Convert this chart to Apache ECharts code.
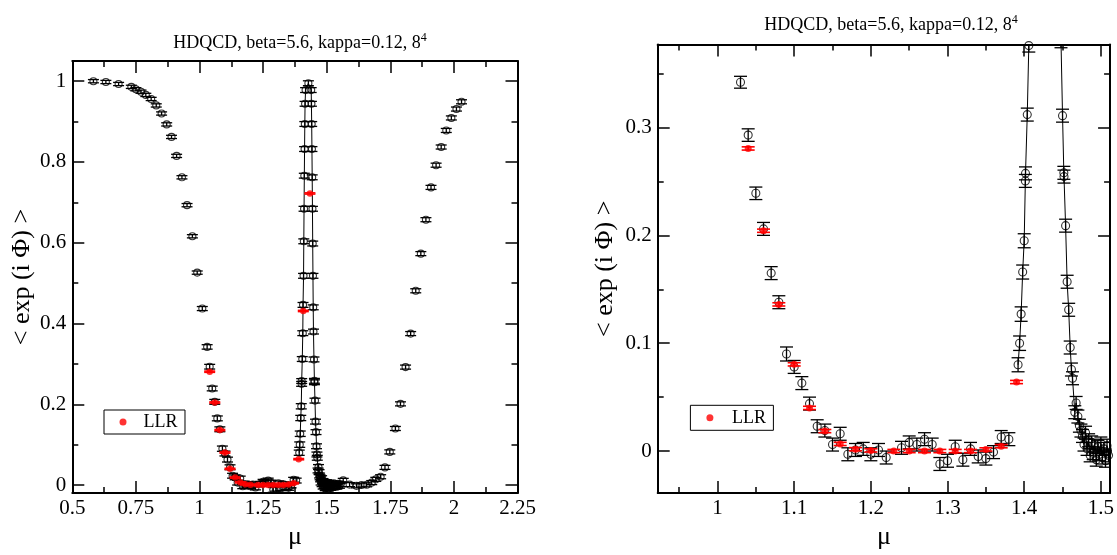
<!DOCTYPE html>
<html><head><meta charset="utf-8">
<script src="https://cdn.jsdelivr.net/npm/echarts@6/dist/echarts.min.js"></script>
<style>html,body{margin:0;padding:0;background:#fff}#c{width:1117px;height:555px}</style>
</head><body><div id="c"></div><script>
// ---- text ----
const titleMain = 'HDQCD, beta=5.6, kappa=0.12, 8';
const titleSup = '4';
const yName = '< exp (i \u03A6) >';
const xName = '\u03BC';
const legendName = 'LLR';

// ---- black open circles (no line) ----
const muBlack = [0.583,0.632,0.682,0.732,0.750,0.770,0.789,0.810,0.830,0.851,0.871,0.890,0.910,0.931,0.951,0.972,0.991,1.011,
  1.03,1.04,1.05,1.06,1.07,1.08,1.09,1.10,1.11,1.12,1.13,1.14,1.15,1.16,1.17,1.18,1.19,1.20,1.21,1.22,1.24,1.25,1.26,1.27,1.28,1.29,1.30,1.31,1.32,1.33,1.34,1.35,1.36,1.37,1.38,
  1.565,1.59,1.617,1.637,1.657,1.677,1.693,1.712,1.729,1.748,1.77,1.79,1.81,1.83,1.85,1.87,1.89,1.91,1.93,1.95,1.97,1.99,2.01,2.03];
const valBlack = [1.000,0.998,0.993,0.986,0.980,0.974,0.966,0.956,0.940,0.920,0.893,0.862,0.815,0.762,0.693,0.616,0.526,0.437,
  0.342,0.293,0.239,0.206,0.165,0.138,0.090,0.078,0.063,0.044,0.023,0.019,0.006,0.016,-0.003,0.001,0.002,-0.003,0.001,-0.006,0.003,0.008,0.006,0.011,0.006,-0.012,-0.009,0.004,-0.008,0.002,-0.005,-0.007,-0.001,0.013,0.011,
  0.0115,0.001,-0.002,0.000,0.0005,0.006,0.014,0.0205,0.0437,0.082,0.140,0.201,0.292,0.375,0.481,0.573,0.657,0.737,0.792,0.837,0.878,0.909,0.931,0.949];
const errBlack = [0.004,0.004,0.004,0.004,0.004,0.004,0.004,0.004,0.004,0.004,0.004,0.004,0.004,0.004,0.004,0.004,0.004,0.005,
  0.0055,0.0058,0.0058,0.006,0.006,0.006,0.0065,0.006,0.006,0.006,0.006,0.006,0.006,0.006,0.006,0.006,0.006,0.006,0.006,0.006,0.006,0.006,0.006,0.006,0.006,0.006,0.006,0.006,0.006,0.006,0.006,0.006,0.006,0.006,0.006,
  0.005,0.005,0.005,0.005,0.005,0.005,0.005,0.005,0.005,0.005,0.005,0.005,0.005,0.005,0.005,0.005,0.005,0.005,0.005,0.005,0.005,0.005,0.005,0.005];

// ---- black open circles joined by a line (peak region) ----
const muPeak = [1.392,1.394,1.396,1.398,1.400,1.4015,1.4017,1.404,1.406,1.407,1.409,1.410,1.411,1.412,1.413,1.414,1.415,1.417,1.428,
  1.439,1.440,1.441,1.442,1.443,1.444,1.445,1.446,1.447,1.448,1.450,1.4517,1.4519,1.454,1.456,1.458,1.460,1.4616,1.463,1.466,1.4677,1.470,1.472,1.474,
  1.476,1.478,1.480,1.482,1.484,1.486,1.488,1.490,1.492,1.494,1.496,1.498,1.500,1.502,1.504,1.506,1.508,1.510,1.513,1.516,1.520,1.524,1.528,1.532,1.536,1.540,1.545,1.550,1.555];
const valPeak = [0.080,0.100,0.127,0.166,0.195,0.2505,0.2575,0.312,0.376,0.446,0.518,0.6035,0.684,0.766,0.832,0.894,0.944,0.978,0.995,
  0.978,0.944,0.894,0.832,0.762,0.684,0.598,0.518,0.440,0.380,0.311,0.258,0.2545,0.209,0.157,0.131,0.096,0.0756,0.0675,0.036,0.0446,0.032,0.0235,0.019,
  0.014,0.006,0.017,0.002,0.010,-0.004,0.008,-0.002,0.005,-0.008,0.004,-0.003,0.007,-0.006,0.002,-0.009,0.005,-0.004,0.003,-0.007,0.002,-0.005,0.004,-0.003,0.001,-0.004,0.003,-0.002,0.002];
const errPeak = [0.0065,0.0067,0.0067,0.0065,0.0065,0.006,0.006,0.006,0.006,0.006,0.006,0.006,0.006,0.006,0.006,0.006,0.006,0.006,0.006,
  0.006,0.006,0.006,0.006,0.006,0.006,0.006,0.006,0.006,0.006,0.006,0.006,0.006,0.006,0.006,0.006,0.006,0.006,0.006,0.006,0.006,0.006,0.006,0.006,
  0.006,0.006,0.006,0.006,0.006,0.006,0.006,0.006,0.006,0.006,0.006,0.006,0.006,0.006,0.006,0.006,0.006,0.006,0.006,0.006,0.006,0.006,0.006,0.006,0.006,0.006,0.006,0.006,0.006];

// ---- LLR (red) ----
const muLLR = [1.04,1.06,1.08,1.10,1.12,1.14,1.16,1.18,1.20,1.23,1.25,1.27,1.29,1.31,1.33,1.35,1.37,1.39,1.408,1.434];
const valLLR = [0.2806,0.2043,0.136,0.0804,0.040,0.0185,0.0066,0.0017,0.0006,0,0,0,0,0,0,0.0015,0.0045,0.064,0.431,0.722];
const errLLR = [0.0015,0.0015,0.0015,0.0015,0.0015,0.0015,0.0015,0.0015,0.0015,0.0015,0.0015,0.0015,0.0015,0.0015,0.0015,0.0015,0.0015,0.0015,0.0015,0.0015];

// ---- ticks ----
const leftXMajor = [0.5,0.75,1,1.25,1.5,1.75,2,2.25];
const leftXMinor = [0.625,0.875,1.125,1.375,1.625,1.875,2.125];
const leftYMajor = [0,0.2,0.4,0.6,0.8,1];
const leftYMinor = [0.1,0.3,0.5,0.7,0.9];
const rightXMajor = [1,1.1,1.2,1.3,1.4,1.5];
const rightXMinor = [0.95,1.05,1.15,1.25,1.35,1.45];
const rightYMajor = [0,0.1,0.2,0.3];
const rightYMinor = [0.05,0.15,0.25,0.35];

const SERIF = 'Liberation Serif';
const zip3 = (a,b,c) => a.map((x,i)=>[x,b[i],c[i]]);

const panels = [
  {grid:{left:72.3,top:61,width:445.2,height:444}, x:[0.5,2.25], y:[-0.02,1.05],
   xMajor:leftXMajor,xMinor:leftXMinor,yMajor:leftYMajor,yMinor:leftYMinor,
   cap:11, sym:7, red:6.5, title:{left:295,top:27}, legend:{left:104,top:410,pad:[3,7.5,3,15.5],tp:12},
   yGap:37, xGap:19},
  {grid:{left:657.7,top:44.5,width:456.6,height:459}, x:[0.922,1.512], y:[-0.039,0.377],
   xMajor:rightXMajor,xMinor:rightXMinor,yMajor:rightYMajor,yMinor:rightYMinor,
   cap:13, sym:8, red:7, title:{left:886,top:9}, legend:{left:690.4,top:405.3,pad:[3.5,7.4,3.5,16],tp:13.6},
   yGap:40, xGap:18}
];

function errRender(capW, color, lw){
  return function(params, api){
    const x = api.value(0), y = api.value(1), e = api.value(2);
    const t = api.coord([x, y + e]), b = api.coord([x, y - e]);
    const cs = params.coordSys;
    if (t[0] < cs.x - 0.5 || t[0] > cs.x + cs.width + 0.5) return;
    const yMin = cs.y, yMax = cs.y + cs.height;
    const kids = [];
    const st = {stroke:color, lineWidth:lw};
    const y1 = Math.max(t[1], yMin), y2 = Math.min(b[1], yMax);
    if (y1 < y2) kids.push({type:'line', shape:{x1:t[0],y1:y1,x2:t[0],y2:y2}, style:st});
    const x1 = Math.max(t[0]-capW/2, cs.x), x2 = Math.min(t[0]+capW/2, cs.x+cs.width);
    if (t[1] >= yMin && t[1] <= yMax) kids.push({type:'line', shape:{x1:x1,y1:t[1],x2:x2,y2:t[1]}, style:st});
    if (b[1] >= yMin && b[1] <= yMax) kids.push({type:'line', shape:{x1:x1,y1:b[1],x2:x2,y2:b[1]}, style:st});
    return {type:'group', children:kids};
  };
}

const grid=[], xAxis=[], yAxis=[], series=[], title=[], legend=[];
panels.forEach((p,g)=>{
  grid.push(Object.assign({containLabel:false}, p.grid));
  const lblStyle = {fontFamily:SERIF, fontSize:21, color:'#000', fontWeight:'normal'};
  const mkX = (pos, vals, len, main, labels) => ({
    gridIndex:g, type:'value', min:p.x[0], max:p.x[1], position:pos,
    axisLine:{show:main, onZero:false, lineStyle:{color:'#000', width:2}},
    axisTick:{show:true, inside:true, length:len, customValues:vals, lineStyle:{color:'#000', width:1.5}},
    axisLabel: labels ? Object.assign({show:true, customValues:vals, margin:5, showMinLabel:true, showMaxLabel:true}, lblStyle) : {show:false},
    splitLine:{show:false}, minorTick:{show:false},
    name: labels ? xName : '', nameLocation:'middle', nameGap:p.xGap,
    nameTextStyle:{fontFamily:SERIF, fontSize:26, color:'#000'}
  });
  const mkY = (pos, vals, len, main, labels) => ({
    gridIndex:g, type:'value', min:p.y[0], max:p.y[1], position:pos,
    axisLine:{show:main, onZero:false, lineStyle:{color:'#000', width:2}},
    axisTick:{show:true, inside:true, length:len, customValues:vals, lineStyle:{color:'#000', width:1.5}},
    axisLabel: labels ? Object.assign({show:true, customValues:vals, margin:6, showMinLabel:true, showMaxLabel:true}, lblStyle) : {show:false},
    splitLine:{show:false}, minorTick:{show:false},
    name: labels ? yName : '', nameLocation:'middle', nameGap:p.yGap, nameRotate:90,
    nameTextStyle:{fontFamily:SERIF, fontSize:26, color:'#000'}
  });
  xAxis.push(mkX('bottom', p.xMajor, 12, true, true));
  xAxis.push(mkX('bottom', p.xMinor, 6, false, false));
  xAxis.push(mkX('top', p.xMajor, 12, true, false));
  xAxis.push(mkX('top', p.xMinor, 6, false, false));
  yAxis.push(mkY('left', p.yMajor, 12, true, true));
  yAxis.push(mkY('left', p.yMinor, 6, false, false));
  yAxis.push(mkY('right', p.yMajor, 12, true, false));
  yAxis.push(mkY('right', p.yMinor, 6, false, false));
  const xi = g*4, yi = g*4;
  const common = {xAxisIndex:xi, yAxisIndex:yi, animation:false};
  series.push(Object.assign({type:'custom', name:'errBlack'+g, renderItem:errRender(p.cap,'#000',1.3),
    data:zip3(muBlack,valBlack,errBlack), encode:{x:0,y:1}, z:2}, common));
  series.push(Object.assign({type:'custom', name:'errPeak'+g, renderItem:errRender(p.cap,'#000',1.3),
    data:zip3(muPeak,valPeak,errPeak), encode:{x:0,y:1}, z:2}, common));
  series.push(Object.assign({type:'line', name:'peak'+g, data:muPeak.map((m,i)=>[m,valPeak[i]]),
    showSymbol:false, symbol:'none', lineStyle:{color:'#000', width:1}, clip:true, z:3}, common));
  series.push(Object.assign({type:'scatter', name:'black'+g, data:muBlack.map((m,i)=>[m,valBlack[i]]),
    symbol:'circle', symbolSize:p.sym, itemStyle:{color:'rgba(0,0,0,0)', borderColor:'#000', borderWidth:1.1}, clip:true, z:4}, common));
  series.push(Object.assign({type:'scatter', name:'blackPeak'+g, data:muPeak.map((m,i)=>[m,valPeak[i]]),
    symbol:'circle', symbolSize:p.sym, itemStyle:{color:'rgba(0,0,0,0)', borderColor:'#000', borderWidth:1.1}, clip:true, z:4}, common));
  series.push(Object.assign({type:'custom', name:'errLLR'+g, renderItem:errRender(p.cap,'#ff0000',1.6),
    data:zip3(muLLR,valLLR,errLLR), encode:{x:0,y:1}, z:5}, common));
  series.push(Object.assign({type:'scatter', name:legendName, data:muLLR.map((m,i)=>[m,valLLR[i]]),
    symbol:'circle', symbolSize:p.red, itemStyle:{color:'#ff0000'}, clip:true, z:6}, common));
  title.push({left:p.title.left, top:p.title.top, textAlign:'center',
    text:'{m|'+titleMain+'}{s|'+titleSup+'}',
    textStyle:{fontWeight:'normal', fontFamily:SERIF, rich:{
      m:{fontFamily:SERIF, fontSize:18, fontWeight:'normal', color:'#000'},
      s:{fontFamily:SERIF, fontSize:12, fontWeight:'normal', color:'#000', padding:[0,0,10,0]}}}});
  legend.push({data:[legendName], left:p.legend.left, top:p.legend.top, padding:p.legend.pad,
    borderColor:'#000', borderWidth:1, itemWidth:7, itemHeight:7, icon:'circle', selectedMode:false,
    textStyle:{fontFamily:SERIF, fontSize:18, color:'#000', padding:[0,0,0,p.legend.tp]}});
});

const chart = echarts.init(document.getElementById('c'), null, {renderer:'canvas'});
chart.setOption({animation:false, backgroundColor:'#fff', textStyle:{fontFamily:SERIF},
  title, legend, grid, xAxis, yAxis, series});
</script></body></html>
